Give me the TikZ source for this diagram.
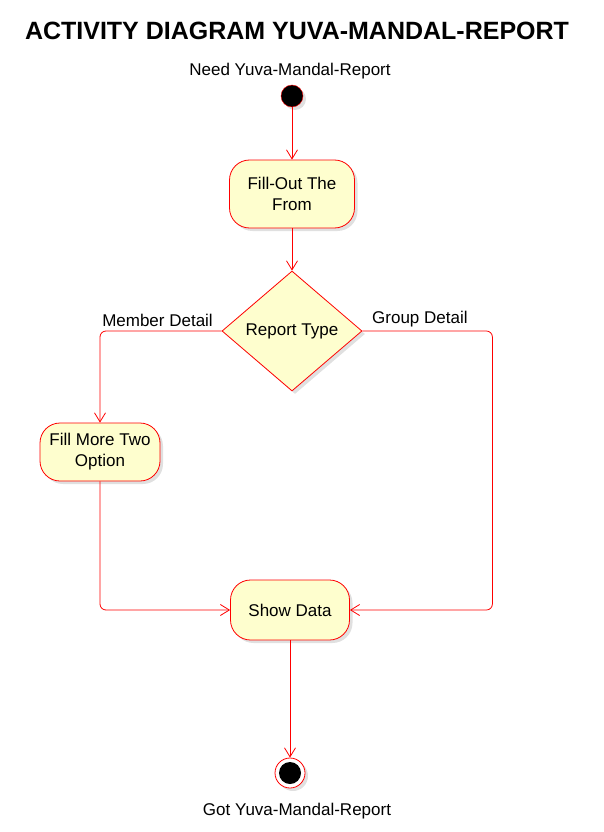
\documentclass[tikz,border=0pt]{standalone}
\usepackage{fontspec}
\setmainfont{Liberation Sans}
\usetikzlibrary{positioning}
\usetikzlibrary{shapes.geometric}
\usetikzlibrary{arrows.meta}
\usetikzlibrary{shadows}

\definecolor{actfill}{HTML}{FEFECE}

\begin{document}
\begin{tikzpicture}[x=1pt, y=-1pt,
    every node/.style={font=\fontsize{17}{21}\selectfont},
    shade/.style={drop shadow={shadow xshift=3pt, shadow yshift=-3pt, opacity=0.35, fill=gray!70}},
    activity/.style={rectangle, rounded corners=20pt, draw=red, fill=actfill, line width=0.8pt, align=center, inner sep=4pt, shade},
    decision/.style={diamond, draw=red, fill=actfill, line width=0.8pt, inner sep=0pt, minimum width=140pt, minimum height=120pt, shade},
    flow/.style={draw=red, line width=0.8pt, rounded corners=6pt, -{Straight Barb[length=9pt, width=11pt]}},
    branch/.style={inner sep=2pt}]
        % Fix the page to the size of the reference
        \useasboundingbox (0,0) rectangle (604,832);

        % Title
        \node[font=\fontsize{25}{30}\selectfont\bfseries] (title) at (297,31) {ACTIVITY DIAGRAM YUVA-MANDAL-REPORT};

        % Start and first activity
        \node (need) at (290,71) {Need Yuva-Mandal-Report};
        \node[circle, draw=red, fill=black, minimum size=22pt, inner sep=0pt, shade] (start) at (292,96) {};
        \node[activity, minimum width=125pt, minimum height=68pt] (fill) at (292,194) {Fill-Out The\\From};

        % Decision
        \node[decision] (type) at (292,331) {\raisebox{-3pt}{Report Type}};
        \node[branch, anchor=south east] (member) at (215,329) {Member Detail};
        \node[branch, anchor=south west] (group) at (370,329) {Group Detail};

        % Branch activities
        \node[activity, minimum width=120pt, minimum height=58pt] (more) at (100,452) {Fill More Two\\Option};
        \node[activity, minimum width=119pt, minimum height=60pt] (show) at (290,610) {Show Data};

        % End
        \node[circle, draw=red, fill=white, minimum size=30pt, inner sep=0pt, line width=0.8pt, shade,
              path picture={\fill[black] (path picture bounding box.center) circle (11pt);}] (end) at (290,773) {};
        \node (got) at (297,811) {Got Yuva-Mandal-Report};

        % Connectors
        \draw[flow] (start) -- (fill);
        \draw[flow] (fill) -- (type);
        \draw[flow] (type.west) -| (more.north);
        \draw[flow] (type.east) -- ++(130,0) |- (show.east);
        \draw[flow] (more.south) |- (show.west);
        \draw[flow] (show) -- (end);
      \end{tikzpicture}
\end{document}
